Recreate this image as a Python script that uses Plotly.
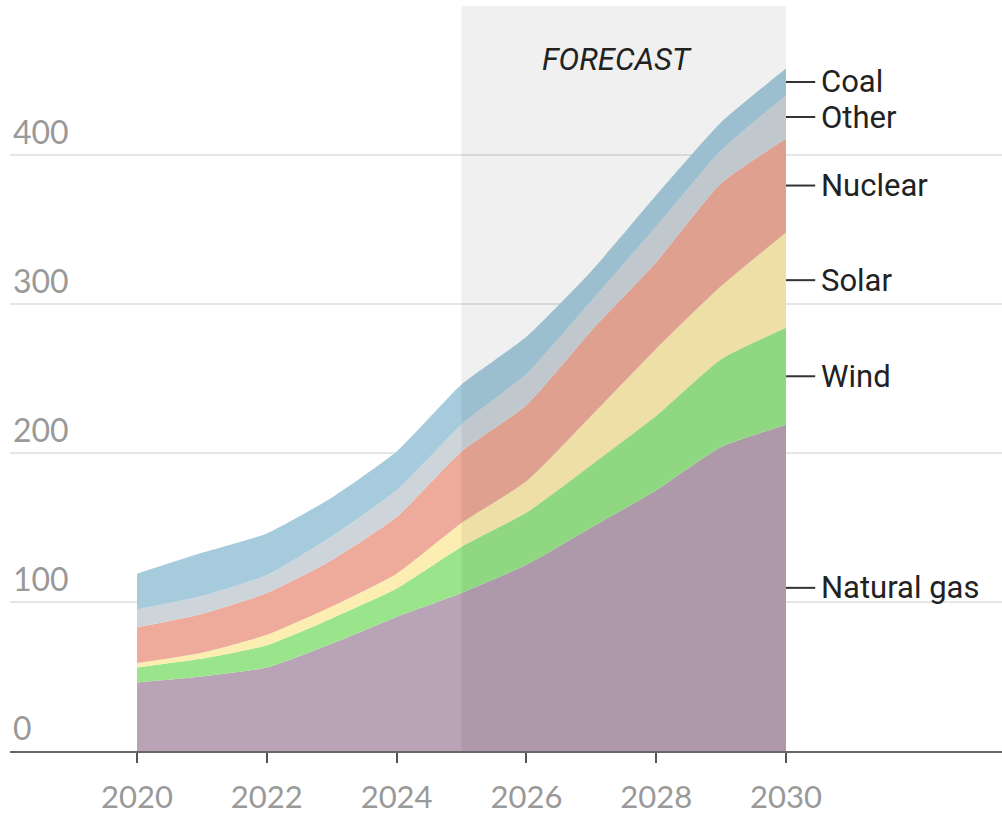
import plotly.graph_objects as go

years = list(range(2020, 2031))
natural_gas = [46, 50, 56, 72, 90, 106, 125, 150, 175, 204, 219]
wind = [10, 12, 15, 17, 19, 31, 35, 42, 50, 59, 65]
solar = [3, 4, 7, 8, 10, 16, 21, 33, 45, 49, 64]
nuclear = [24, 26, 28, 31, 38, 48, 51, 57, 58, 69, 63]
other = [12, 12, 12, 16, 18, 18, 21, 20, 24, 22, 29]
coal = [24, 29, 28, 26, 26, 27, 25, 20, 21, 19, 18]

series_names = ["Natural gas", "Wind", "Solar", "Nuclear", "Other", "Coal"]
series_values = [natural_gas, wind, solar, nuclear, other, coal]
series_colors = ["#b9a3b6", "#9ae58b", "#fcedb0", "#eeaa9a", "#cdd5da", "#a6cbdc"]

y_ticks = [0, 100, 200, 300, 400, 500]
y_tick_text = ["0", "100", "200", "300", "400", ""]
x_ticks = [2020, 2022, 2024, 2026, 2028, 2030]
forecast_start, forecast_end = 2025, 2030

fig = go.Figure()
for name, vals, col in zip(series_names, series_values, series_colors):
    fig.add_trace(go.Scatter(
        x=years, y=vals, name=name, stackgroup="one", mode="lines",
        line=dict(width=0, shape="spline", smoothing=0.5),
        fillcolor=col, hoverinfo="skip", showlegend=False,
    ))

# forecast shading
fig.add_shape(type="rect", xref="x", yref="y", x0=forecast_start, x1=forecast_end,
              y0=0, y1=y_ticks[-1], fillcolor="rgba(0,0,0,0.06)", line_width=0,
              layer="above")

fig.add_annotation(x=2027.4, y=464, xref="x", yref="y", text="<i>FORECAST</i>",
                   showarrow=False, font=dict(family="Roboto", size=31, color="#222"))

# right-hand labels at band midpoints in final year
cum = 0
last = len(years) - 1
for name, vals in zip(series_names, series_values):
    mid = cum + vals[last] / 2
    cum += vals[last]
    fig.add_shape(type="line", xref="x", yref="y", x0=years[last], x1=years[last] + 0.45,
                  y0=mid, y1=mid, line=dict(color="#333", width=2))
    fig.add_annotation(x=years[last], y=mid, xref="x", yref="y", text=name,
                       showarrow=False, xanchor="left", yanchor="middle", xshift=33,
                       font=dict(family="Roboto", size=31, color="#222"))

fig.update_layout(
    width=1002, height=816,
    margin=dict(l=10, r=0, t=6, b=65),
    paper_bgcolor="white", plot_bgcolor="white",
    hovermode=False,
    xaxis=dict(
        range=[2018.043, 2033.328], tickvals=x_ticks, ticks="outside", ticklen=10,
        tickwidth=2, tickcolor="#555", showline=True, linecolor="#666", linewidth=2,
        showgrid=False, zeroline=False, ticklabelstandoff=8, automargin=False,
        tickfont=dict(family="Lato", size=31, color="#999"),
    ),
    yaxis=dict(
        range=[0, 500], tickvals=y_ticks, ticktext=y_tick_text, automargin=False,
        ticklabelposition="inside top", showgrid=True, gridcolor="#e6e6e6", gridwidth=1.5,
        showline=False, zeroline=False, ticks="",
        tickfont=dict(family="Lato", size=32, color="#999"),
    ),
)

fig.write_html("out.html")
